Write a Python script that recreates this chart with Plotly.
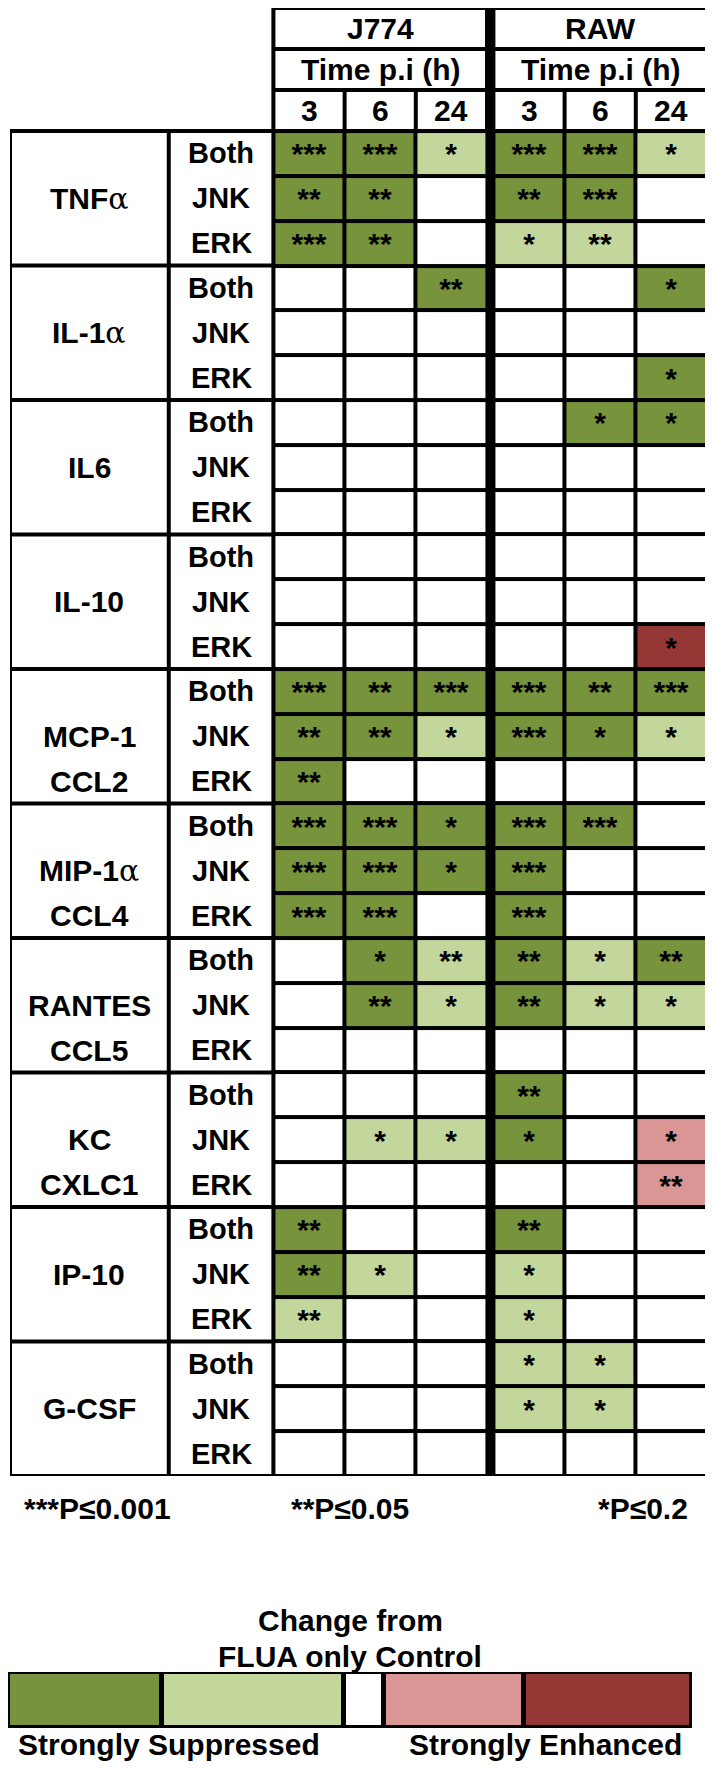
import plotly.graph_objects as go

# the page body has an 8px margin, so the figure is sized to fit inside the window
OFF = 8
W, H = 700, 1753
FONT = "Liberation Sans, Arial, sans-serif"

# ---- data ----
cell_lines = ["J774", "RAW"]
time_label = "Time p.i (h)"
times = ["3", "6", "24"]
ALPHA = "<span style='font-family:DejaVu Serif;font-weight:normal'>α</span>"
cytokines = ["TNF" + ALPHA, "IL-1" + ALPHA, "IL6", "IL-10", "MCP-1",
             "MIP-1" + ALPHA, "RANTES", "KC", "IP-10", "G-CSF"]
aliases = ["", "", "", "", "CCL2", "CCL4", "CCL5", "CXLC1", "", ""]
inhibitors = ["Both", "JNK", "ERK"]

# change level per row (3h, 6h, 24h): -2 strongly suppressed ... 2 strongly enhanced
j774_level = [
    [-2, -2, -1], [-2, -2, 0], [-2, -2, 0],   # TNFa
    [0, 0, -2], [0, 0, 0], [0, 0, 0],         # IL-1a
    [0, 0, 0], [0, 0, 0], [0, 0, 0],          # IL6
    [0, 0, 0], [0, 0, 0], [0, 0, 0],          # IL-10
    [-2, -2, -2], [-2, -2, -1], [-2, 0, 0],   # MCP-1
    [-2, -2, -2], [-2, -2, -2], [-2, -2, 0],  # MIP-1a
    [0, -2, -1], [0, -2, -1], [0, 0, 0],      # RANTES
    [0, 0, 0], [0, -1, -1], [0, 0, 0],        # KC
    [-2, 0, 0], [-2, -1, 0], [-1, 0, 0],      # IP-10
    [0, 0, 0], [0, 0, 0], [0, 0, 0],          # G-CSF
]
j774_stars = [
    [3, 3, 1], [2, 2, 0], [3, 2, 0],
    [0, 0, 2], [0, 0, 0], [0, 0, 0],
    [0, 0, 0], [0, 0, 0], [0, 0, 0],
    [0, 0, 0], [0, 0, 0], [0, 0, 0],
    [3, 2, 3], [2, 2, 1], [2, 0, 0],
    [3, 3, 1], [3, 3, 1], [3, 3, 0],
    [0, 1, 2], [0, 2, 1], [0, 0, 0],
    [0, 0, 0], [0, 1, 1], [0, 0, 0],
    [2, 0, 0], [2, 1, 0], [2, 0, 0],
    [0, 0, 0], [0, 0, 0], [0, 0, 0],
]
raw_level = [
    [-2, -2, -1], [-2, -2, 0], [-1, -1, 0],
    [0, 0, -2], [0, 0, 0], [0, 0, -2],
    [0, -2, -2], [0, 0, 0], [0, 0, 0],
    [0, 0, 0], [0, 0, 0], [0, 0, 2],
    [-2, -2, -2], [-2, -2, -1], [0, 0, 0],
    [-2, -2, 0], [-2, 0, 0], [-2, 0, 0],
    [-2, -1, -2], [-2, -1, -1], [0, 0, 0],
    [-2, 0, 0], [-2, 0, 1], [0, 0, 1],
    [-2, 0, 0], [-1, 0, 0], [-1, 0, 0],
    [-1, -1, 0], [-1, -1, 0], [0, 0, 0],
]
raw_stars = [
    [3, 3, 1], [2, 3, 0], [1, 2, 0],
    [0, 0, 1], [0, 0, 0], [0, 0, 1],
    [0, 1, 1], [0, 0, 0], [0, 0, 0],
    [0, 0, 0], [0, 0, 0], [0, 0, 1],
    [3, 2, 3], [3, 1, 1], [0, 0, 0],
    [3, 3, 0], [3, 0, 0], [3, 0, 0],
    [2, 1, 2], [2, 1, 1], [0, 0, 0],
    [2, 0, 0], [1, 0, 1], [0, 0, 2],
    [2, 0, 0], [1, 0, 0], [1, 0, 0],
    [1, 1, 0], [1, 1, 0], [0, 0, 0],
]

p_notes = ["***P≤0.001", "**P≤0.05", "*P≤0.2"]
legend_title = ["Change from", "FLUA only Control"]
legend_levels = [-2, -1, 0, 1, 2]
legend_widths = [154, 182, 41, 140, 168]
legend_ends = ["Strongly Suppressed", "Strongly Enhanced"]

colors = ["#77933C", "#C3D69B", "#FFFFFF", "#D99694", "#953735"]
colorscale = [[i / 4, c] for i, c in enumerate(colors)]

# ---- layout helpers ----
GRP_W, SUB_W, SPLIT = 2.23, 1.47, 0.09   # column widths in data-column units
HDR_H = 0.915                            # header row height in body-row units
n_rows = len(cytokines) * len(inhibitors)
x_lo = -0.5 - SUB_W - GRP_W
x_hi = 2 * len(times) - 0.5 + SPLIT
y_top = -0.5 - 3 * HDR_H
y_bot = n_rows - 0.5


def px(v):
    return (v - OFF) / W


def py(v):
    return 1 - (v - OFF) / H


dom_x = [px(10), px(707)]
dom_y = [py(1476), py(8)]
ux = (dom_x[1] - dom_x[0]) * W / (x_hi - x_lo)
uy = (dom_y[1] - dom_y[0]) * H / (y_bot - y_top)
hx, hy = 2 / ux, 2 / uy   # half of a 4px rule

fig = go.Figure()

rows = list(range(n_rows))
for k, (lvl, st) in enumerate([(j774_level, j774_stars), (raw_level, raw_stars)]):
    xs = [k * (len(times) + SPLIT) + i for i in range(len(times))]
    fig.add_trace(go.Heatmap(
        z=lvl, x=xs, y=rows,
        text=[["*" * n for n in r] for r in st],
        texttemplate="%{text}",
        textfont=dict(family=FONT, size=30, color="black", weight="bold"),
        colorscale=colorscale, zmin=-2, zmax=2, showscale=False,
        xgap=4, ygap=4, hoverinfo="skip",
    ))


def white_cell(x0, x1, y0, y1):
    fig.add_shape(type="rect", xref="x", yref="y",
                  x0=x0 + hx, x1=x1 - hx, y0=y0 + hy, y1=y1 - hy,
                  fillcolor="white", line_width=0)


def label(x, y, text, size=30):
    fig.add_annotation(x=x, y=y, xref="x", yref="y", text=text, showarrow=False,
                       xanchor="center", yanchor="middle",
                       font=dict(family=FONT, size=size, color="black", weight="bold"))


def paper_text(x, y, text, anchor="center"):
    fig.add_annotation(x=px(x), y=py(y), xref="paper", yref="paper", text=text,
                       showarrow=False, xanchor=anchor, yanchor="middle",
                       font=dict(family=FONT, size=30, color="black", weight="bold"))


# blank corner above the row labels
fig.add_shape(type="rect", xref="x", yref="y", x0=x_lo - 1, x1=-0.5 - hx,
              y0=y_top - 1, y1=-0.5 - hy, fillcolor="white", line_width=0)

# column headers
for k, name in enumerate(cell_lines):
    x0 = k * (len(times) + SPLIT) - 0.5
    x1 = x0 + len(times)
    r0 = y_top
    white_cell(x0, x1, r0, r0 + HDR_H)
    label((x0 + x1) / 2, r0 + HDR_H / 2, name)
    r1 = y_top + HDR_H
    white_cell(x0, x1, r1, r1 + HDR_H)
    label((x0 + x1) / 2, r1 + HDR_H / 2, time_label)
    r2 = y_top + 2 * HDR_H
    for i, t in enumerate(times):
        white_cell(x0 + i, x0 + i + 1, r2, r2 + HDR_H)
        label(x0 + i + 0.5, r2 + HDR_H / 2, t)

# row labels
gx = x_lo + GRP_W / 2
sx = x_lo + GRP_W + SUB_W / 2
for g, name in enumerate(cytokines):
    y0 = g * 3 - 0.5
    white_cell(x_lo, x_lo + GRP_W, y0, y0 + 3)
    white_cell(x_lo + GRP_W, -0.5, y0, y0 + 3)
    label(gx, g * 3 + 1, name)
    if aliases[g]:
        label(gx, g * 3 + 2, aliases[g])
    for j, inh in enumerate(inhibitors):
        label(sx, g * 3 + j, inh, size=29)

# heavier outer frame of the table
fig.add_shape(type="rect", xref="x", yref="y", x0=-0.5 - SUB_W - GRP_W, x1=x_hi,
              y0=-0.5, y1=y_bot, line=dict(color="black", width=3))
fig.add_shape(type="rect", xref="x", yref="y", x0=-0.5, x1=x_hi,
              y0=y_top, y1=y_bot, line=dict(color="black", width=3))

# p-value notes
for txt, (x, anc) in zip(p_notes, [(98, "center"), (350, "center"), (690, "right")]):
    paper_text(x, 1508, txt, anc)

# colour key
paper_text(350, 1620, legend_title[0])
paper_text(350, 1656, legend_title[1])

edges = [0]
for w in legend_widths:
    edges.append(edges[-1] + w)
fig.add_trace(go.Heatmap(
    z=[legend_levels], x=edges, y=[0], xaxis="x2", yaxis="y2",
    colorscale=colorscale, zmin=-2, zmax=2, showscale=False,
    xgap=5, ygap=5, hoverinfo="skip",
))
paper_text(16, 1744, legend_ends[0], "left")
paper_text(684, 1744, legend_ends[1], "right")

fig.update_layout(
    width=W, height=H,
    margin=dict(l=0, r=0, t=0, b=0),
    paper_bgcolor="white", plot_bgcolor="black",
    showlegend=False,
    xaxis=dict(domain=dom_x, range=[x_lo, x_hi], visible=False, fixedrange=True),
    yaxis=dict(domain=dom_y, range=[y_bot, y_top], visible=False, fixedrange=True),
    xaxis2=dict(domain=[px(8), px(692)], range=[0, edges[-1]], visible=False,
                anchor="y2", fixedrange=True),
    yaxis2=dict(domain=[py(1728), py(1672)], range=[-0.5, 0.5], visible=False,
                anchor="x2", fixedrange=True),
)

fig.write_html("out.html")
